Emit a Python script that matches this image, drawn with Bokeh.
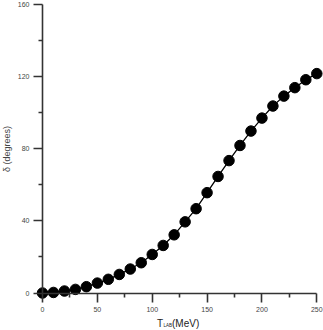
import math
from bokeh.plotting import figure
from bokeh.models import Range1d, FixedTicker, Label
from bokeh.embed import file_html
from bokeh.resources import INLINE

# ---- data ----
t_lab = [0, 10, 20, 30, 40, 50, 60, 70, 80, 90, 100, 110, 120, 130, 140,
         150, 160, 170, 180, 190, 200, 210, 220, 230, 240, 250]
delta = [0.0, 0.3, 1.1, 2.0, 3.5, 5.5, 7.6, 10.3, 13.3, 16.8, 21.4, 26.4,
         32.3, 39.5, 46.8, 55.7, 64.7, 73.5, 81.9, 89.9, 97.1, 103.8, 109.3,
         114.0, 118.4, 121.8]
x_major = [0, 50, 100, 150, 200, 250]
x_minor = [25, 75, 125, 175, 225]
y_major = [0, 40, 80, 120, 160]
y_minor = [20, 60, 100, 140]
x_lim = (0, 250)
y_lim = (0, 160)

# ---- geometry: the frame covers the whole canvas; axes sit at the zeros ----
W, H = 323, 330
x0_px, x1_px = 42.0, 316.3
y0_px, y1_px = 292.5, 4.3
sx = (x1_px - x0_px) / (x_lim[1] - x_lim[0])
sy = (y0_px - y1_px) / (y_lim[1] - y_lim[0])
x_start = x_lim[0] - x0_px / sx
x_end = x_lim[1] + (W - x1_px) / sx
y_start = y_lim[0] - (H - y0_px) / sy
y_end = y_lim[1] + y1_px / sy

p = figure(width=W, height=H,
           x_range=Range1d(x_start, x_end), y_range=Range1d(y_start, y_end),
           output_backend="svg", toolbar_location=None,
           min_border_left=0, min_border_right=0,
           min_border_top=0, min_border_bottom=0)
p.outline_line_color = None
p.grid.visible = False
p.background_fill_color = "white"
p.border_fill_color = "white"

p.line(t_lab, delta, line_color="black", line_width=1.3)
p.scatter(t_lab, delta, size=10.5, fill_color="black", line_color="black")

font = "Liberation Sans"
axcol = "#333333"
for ax, maj, mino, lim in ((p.xaxis[0], x_major, x_minor, x_lim),
                           (p.yaxis[0], y_major, y_minor, y_lim)):
    ax.fixed_location = 0
    ax.bounds = lim
    ax.ticker = FixedTicker(ticks=maj, minor_ticks=mino)
    ax.axis_line_color = axcol
    ax.axis_line_width = 1.6
    ax.major_tick_line_color = axcol
    ax.major_tick_line_width = 1.6
    ax.minor_tick_line_color = axcol
    ax.minor_tick_line_width = 1.6
    ax.major_tick_in = 0
    ax.major_tick_out = 9
    ax.minor_tick_in = 0
    ax.minor_tick_out = 4
    ax.major_label_text_font = font
    ax.major_label_text_font_size = "7px"
    ax.major_label_text_color = "#444444"
p.xaxis.major_label_standoff = 5
p.yaxis.major_label_standoff = 4

# axis titles
tcol = "#222222"
p.add_layout(Label(x=0, y=0, x_offset=114.5, y_offset=-30.8, text="T",
                   text_font=font, text_font_size="10px",
                   text_color=tcol, text_baseline="alphabetic"))
p.add_layout(Label(x=0, y=0, x_offset=121.0, y_offset=-32.3, text="LAB",
                   text_font=font, text_font_size="4.5px",
                   text_color=tcol, text_baseline="alphabetic"))
p.add_layout(Label(x=0, y=0, x_offset=129.5, y_offset=-30.8, text="(MeV)",
                   text_font=font, text_font_size="10px",
                   text_color=tcol, text_baseline="alphabetic"))
p.add_layout(Label(x=0, y=80, x_offset=-36, y_offset=0, text="δ (degrees)",
                   angle=math.pi / 2, text_font=font,
                   text_font_size="9px", text_color="#444444",
                   text_align="center", text_baseline="middle"))

open("out.html", "w").write(file_html(p, INLINE))
